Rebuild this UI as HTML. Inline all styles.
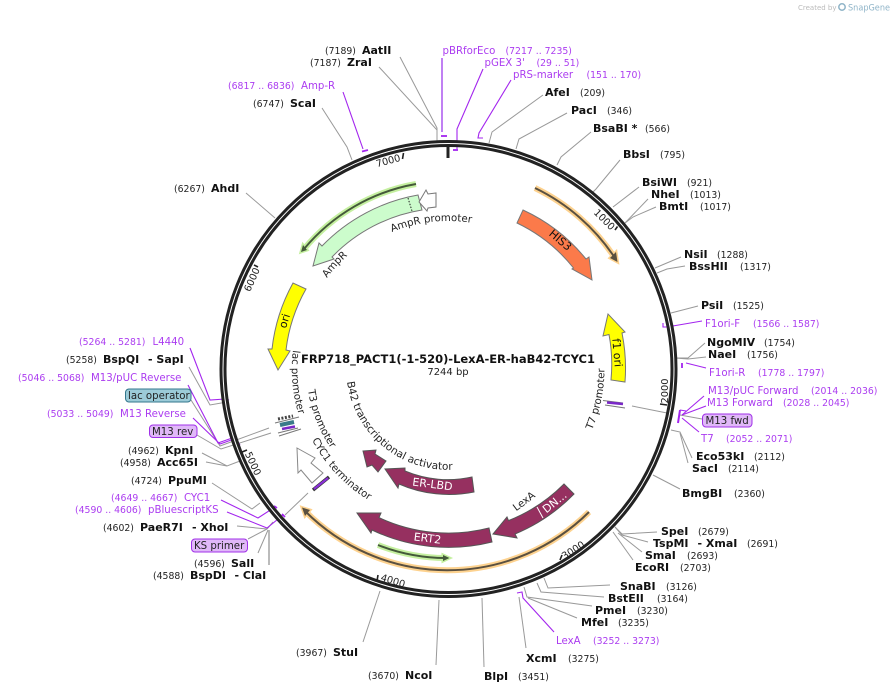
<!DOCTYPE html>
<html><head><meta charset="utf-8"><style>
html,body{margin:0;padding:0;background:#fff;width:896px;height:693px;overflow:hidden}
svg{display:block;font-family:"DejaVu Sans","Liberation Sans",sans-serif}
.b{font-size:11px;font-weight:bold;fill:#111}
.n{font-size:9.3px;fill:#222}
.p{font-size:10.2px;fill:#ab3cf0}
.q{font-size:9.3px;fill:#ab3cf0}
.t{font-size:10.2px;fill:#222}
.u{font-size:10.5px;fill:#222}
.w{font-size:11px;fill:#fff;text-anchor:middle}
.k{font-size:11px;fill:#111;text-anchor:middle}
.tk{font-size:9.8px;fill:#222;text-anchor:middle}
.l polyline,.l line{fill:none;stroke:#999;stroke-width:1}
.v polyline,.v line{fill:none;stroke:#a325ee;stroke-width:1.1}
</style></head><body>
<svg width="896" height="693" viewBox="0 0 896 693" xmlns="http://www.w3.org/2000/svg">
<defs>
<path id="a1" d="M327,278 A151,151 0 0 1 599,369"/>
<path id="a2" d="M392,232 A148,148 0 0 1 596,369"/>
<path id="a3" d="M592,430 A156,156 0 0 0 448,213"/>
<path id="a4" d="M293,350 A156,156 0 0 0 448,525"/>
<path id="a5" d="M308,390 A141,141 0 0 0 448,510"/>
<path id="a6" d="M312,440 A153,153 0 0 0 448,522"/>
<path id="a7" d="M347,382 A102,102 0 0 0 550,369"/>
</defs>

<text x="798" y="10" font-size="7" fill="#bbb">Created by</text>
<circle cx="842" cy="7" r="3.2" fill="none" stroke="#8fb4c8" stroke-width="1.5"/>
<text x="848" y="10.5" font-size="8.5" fill="#8fb4c8" textLength="42" lengthAdjust="spacingAndGlyphs">SnapGene</text>

<g class="l">
<polyline points="400,57 437,128 437,141"/>
<polyline points="379,67 437,130"/>
<polyline points="322,108 347,147 352,160"/>
<polyline points="246,193 275,218"/>
<polyline points="543,95 492,132 489,143"/>
<polyline points="567,113 519,139 516,149"/>
<polyline points="591,132 561,157 557,165"/>
<polyline points="620,160 596,189 592,193"/>
<polyline points="639,187 613,207"/>
<polyline points="648,199 625,223"/>
<polyline points="656,207 633,217 625,223"/>
<polyline points="681,257 655,268"/>
<polyline points="685,266 667,269 657,273"/>
<polyline points="698,306 671,313"/>
<polyline points="705,343 688,358 675,358"/>
<polyline points="706,357 688,359 675,358"/>
<polyline points="702,419 680,415"/>
<polyline points="692,458 680,432 671,430"/>
<polyline points="688,463 680,433"/>
<polyline points="653,475 680,489"/>
<polyline points="632,406 667,413"/>
<polyline points="657,532 622,534 615,527"/>
<polyline points="648,542 622,535 615,527"/>
<polyline points="642,552 618,533"/>
<polyline points="633,560 613,532"/>
<polyline points="610,585 548,588 544,578"/>
<polyline points="604,597 541,592 537,583"/>
<polyline points="592,606 527,597 524,587"/>
<polyline points="577,618 528,598"/>
<polyline points="526,648 519,597"/>
<polyline points="484,667 482,598"/>
<polyline points="436,665 439,600"/>
<polyline points="363,642 380,591"/>
<polyline points="189,367 210,405 227,402"/>
<polyline points="191,400 220,446 269,428"/>
<polyline points="197,435 221,449 271,433"/>
<polyline points="202,453 227,466 240,461"/>
<polyline points="206,462 227,466"/>
<polyline points="212,483 252,509 260,503"/>
<polyline points="237,526 267,529"/>
<polyline points="248,539 267,529"/>
<polyline points="258,553 268,530"/>
<polyline points="267,529 273,522"/>
<polyline points="285,515 308,493"/>
<line x1="269" y1="565" x2="269" y2="530" style="stroke:#aaa;stroke-width:1.6"/>
</g>

<g class="v">
<polyline points="343,92 363,149"/>
<line x1="362" y1="151.5" x2="368" y2="150" style="stroke-width:1.8"/>
<line x1="442" y1="58" x2="442" y2="132" style="stroke:#b060f0;stroke-width:1.6"/>
<line x1="441" y1="136" x2="447" y2="136" style="stroke-width:1.8"/>
<polyline points="483,69 457,129 457,149"/>
<line x1="453" y1="150" x2="458" y2="150" style="stroke-width:1.8"/>
<polyline points="511,80 479,133 478,138 483,138"/>
<polyline points="702,321 667,327 663,327 663,323"/>
<polyline points="706,368 686,363"/>
<line x1="682" y1="363" x2="682" y2="368" style="stroke-width:1.8"/>
<polyline points="704,396 682,415"/>
<polyline points="706,406 682,415"/>
<polyline points="699,432 682,418"/>
<polyline points="680,410 678,423" style="stroke-width:2"/>
<polyline points="680,410 686,411"/>
<polyline points="554,632 523,598 522,592 517,593"/>
<polyline points="190,348 210,400 225,399 229,400"/>
<polyline points="188,385 218,443 235,437 240,445"/>
<polyline points="193,418 220,444 237,438"/>
<polyline points="221,500 258,518 275,507"/>
<polyline points="227,512 267,528 283,515"/>
<line x1="274" y1="506" x2="277" y2="508" style="stroke-width:1.8"/>
<line x1="282" y1="514" x2="285" y2="517" style="stroke-width:1.8"/>
</g>

<circle cx="448.5" cy="369" r="225.5" fill="none" stroke="#222" stroke-width="7"/>
<circle cx="448.5" cy="369" r="225.5" fill="none" stroke="#fff" stroke-width="1"/>

<g stroke="#222" stroke-width="1.6">
<line x1="448" y1="146" x2="448" y2="158" stroke-width="3"/>
<line x1="403.5" y1="153" x2="402.5" y2="159"/>
<line x1="617.5" y1="226.5" x2="615" y2="230"/>
<line x1="667" y1="405" x2="660" y2="404"/>
<line x1="562" y1="555" x2="560" y2="560"/>
<line x1="378" y1="575" x2="377" y2="581"/>
<line x1="242" y1="452" x2="247" y2="450"/>
<line x1="258" y1="267" x2="254" y2="265"/>
</g>
<text class="tk" transform="translate(389,164) rotate(-15)">7000</text>
<text class="tk" transform="translate(602,222) rotate(45)">1000</text>
<text class="tk" transform="translate(668,391) rotate(-90)">2000</text>
<text class="tk" transform="translate(575,553) rotate(-33)">3000</text>
<text class="tk" transform="translate(392,584) rotate(17)">4000</text>
<text class="tk" transform="translate(250,465) rotate(65)">5000</text>
<text class="tk" transform="translate(255,281) rotate(-66)">6000</text>

<!-- direction arcs -->
<g fill="none">
<path d="M535,188 A200,200 0 0 1 615,258" stroke="#fdd28f" stroke-width="6"/>
<polygon points="617.5,262 610,258 616,252" fill="#fdd28f" stroke="#fdd28f" stroke-width="3"/>
<path d="M535,188 A200,200 0 0 1 615,258" stroke="#5a5040" stroke-width="2"/>
<polygon points="617.5,262 610,258 616,252" fill="#5a5040"/>

<path d="M589,512 A201,201 0 0 1 305,511" stroke="#fdd28f" stroke-width="6"/>
<polygon points="302,507.5 310,510 305,516" fill="#fdd28f" stroke="#fdd28f" stroke-width="3"/>
<path d="M589,512 A201,201 0 0 1 305,511" stroke="#5a5040" stroke-width="2"/>
<polygon points="302,507.5 310,510 305,516" fill="#5a5040"/>

<path d="M416,184 A188,188 0 0 0 304,249" stroke="#c5f0a0" stroke-width="6"/>
<polygon points="301,252 307,250 303,245" fill="#c5f0a0" stroke="#c5f0a0" stroke-width="3"/>
<path d="M416,184 A188,188 0 0 0 304,249" stroke="#44593a" stroke-width="2"/>
<polygon points="301,252 307,250 303,245" fill="#44593a"/>

<path d="M378,545 A189,189 0 0 0 446,558" stroke="#c5f0a0" stroke-width="6"/>
<polygon points="449.5,558 443,555 443,561" fill="#c5f0a0" stroke="#c5f0a0" stroke-width="3"/>
<path d="M378,545 A189,189 0 0 0 446,558" stroke="#44593a" stroke-width="2"/>
<polygon points="449.5,558 443,555 443,561" fill="#44593a"/>
</g>

<!-- features -->
<g stroke="#777" stroke-width="1">
<path d="M418,195 A176,176 0 0 0 322,246 L319,243 L313,266 L334,259 L332,257 A161,161 0 0 1 422,210 Z" fill="#ccfccc"/>
<line x1="408" y1="198" x2="412" y2="211" stroke="#222" stroke-dasharray="1.5 1.5"/>
<polygon points="419,202 426,190 428,194 436,193 436,207 428,208 427,211" fill="#fff"/>
<path d="M293,283 A177,177 0 0 0 272,349 L268,349 L278,370 L290,351 L286,350 A163,163 0 0 1 306,289 Z" fill="#ffff00"/>
<path d="M523,210 A176,176 0 0 1 586,259 L589,257 L592,280 L572,269 L573.5,268 A161,161 0 0 0 517,223 Z" fill="#fb7a4a"/>
<path d="M611,380 A163,163 0 0 0 609,334.5 L603,336 L608,314 L625,332 L622,333 A177,177 0 0 1 625,382 Z" fill="#ffff00"/>
<g fill="#963060" stroke="#555">
<path d="M472,477 A111,111 0 0 1 405,471 L405,468 L385,469 L398,488 L399,484 A125,125 0 0 0 474,492 Z"/>
<polygon points="363,451 376,450 375,454 386,461 378,472 372,465 367,467"/>
<path d="M489,528 A164,164 0 0 1 379,517.6 L381,513 L357,513 L371,533 L372,530 A178,178 0 0 0 492,542 Z"/>
<path d="M564,484 A163,163 0 0 1 508.5,520.6 L507,517 L493,534 L517,538 L515,534 A178,178 0 0 0 574,494 Z"/>
</g>
<line x1="537" y1="507" x2="543" y2="518" stroke="#fff"/>
<polygon points="297,448 315,458 311,463 323,473 312,483 301,470 298,473" fill="#fff" stroke="#888"/>
</g>

<!-- small features -->
<g fill="none">
<line x1="603" y1="400.5" x2="623" y2="403" stroke="#777"/>
<line x1="605" y1="405" x2="625" y2="408" stroke="#777"/>
<line x1="607" y1="402.5" x2="623" y2="404" stroke="#7a28c8" stroke-width="2.5"/>
<line x1="278" y1="419" x2="293" y2="416" stroke="#444" stroke-width="3" stroke-dasharray="2 1.5"/>
<line x1="280" y1="425" x2="294" y2="422" stroke="#3a7a8a" stroke-width="4"/>
<line x1="282" y1="429" x2="295" y2="426.5" stroke="#7a28c8" stroke-width="2.5"/>
<line x1="275" y1="423" x2="299" y2="417" stroke="#777"/>
<line x1="279" y1="436" x2="301" y2="429" stroke="#777"/>
<line x1="278" y1="433" x2="298" y2="428" stroke="#777"/>
<line x1="313" y1="490" x2="329" y2="477" stroke="#333" stroke-width="3.4"/>
<line x1="314" y1="489" x2="328" y2="478" stroke="#8a30d8" stroke-width="2.2"/>
</g>

<!-- feature text -->
<text class="k" transform="translate(558,243) rotate(40)">HIS3</text>
<text class="k" transform="translate(613.5,353) rotate(85)">f1 ori</text>
<text class="k" transform="translate(288,322) rotate(-73)">ori</text>
<text class="w" transform="translate(432,488) rotate(7)">ER-LBD</text>
<text class="w" transform="translate(427,542) rotate(7)">ERT2</text>
<text class="w" transform="translate(557,505) rotate(-39)">DN...</text>
<text class="t" text-anchor="middle" transform="translate(526,504) rotate(-37)">LexA</text>
<text class="t"><textPath href="#a1">AmpR</textPath></text>
<text class="t"><textPath href="#a2">AmpR promoter</textPath></text>
<text class="t"><textPath href="#a3">T7 promoter</textPath></text>
<text class="t"><textPath href="#a4">lac promoter</textPath></text>
<text class="t"><textPath href="#a5">T3 promoter</textPath></text>
<text class="t"><textPath href="#a6">CYC1 terminator</textPath></text>
<text class="u"><textPath href="#a7">B42 transcriptional activator</textPath></text>

<text x="301" y="363" font-size="11.5" font-weight="bold" fill="#111" textLength="294" lengthAdjust="spacing">FRP718_PACT1(-1-520)-LexA-ER-haB42-TCYC1</text>
<text x="448" y="375" font-size="10" fill="#222" text-anchor="middle">7244 bp</text>

<!-- boxes -->
<rect x="702.5" y="414" width="49.5" height="13" rx="3.5" fill="#e0b8f8" stroke="#a030e8"/>
<text x="705.5" y="424" class="t">M13 fwd</text>
<rect x="125.5" y="389" width="65.5" height="13" rx="3.5" fill="#9ccbd8" stroke="#33778c"/>
<text x="128" y="399" class="t">lac operator</text>
<rect x="149.5" y="425" width="47.5" height="12.5" rx="3.5" fill="#e0b8f8" stroke="#a030e8"/>
<text x="152" y="435" class="t">M13 rev</text>
<rect x="191.5" y="539" width="56" height="13" rx="3.5" fill="#e0b8f8" stroke="#a030e8"/>
<text x="194" y="549" class="t">KS primer</text>

<!-- labels -->
<text x="325" y="54" class="n">(7189)</text><text x="362" y="54" class="b">AatII</text>
<text x="310" y="66" class="n">(7187)</text><text x="347" y="66" class="b">ZraI</text>
<text x="228" y="89" class="q">(6817 .. 6836)</text><text x="301" y="89" class="p">Amp-R</text>
<text x="253" y="107" class="n">(6747)</text><text x="290" y="107" class="b">ScaI</text>
<text x="174" y="192" class="n">(6267)</text><text x="211" y="192" class="b">AhdI</text>
<text x="442.5" y="54" class="p">pBRforEco</text><text x="505.5" y="54" class="q">(7217 .. 7235)</text>
<text x="484.5" y="66" class="p">pGEX 3'</text><text x="536.5" y="66" class="q">(29 .. 51)</text>
<text x="513" y="78" class="p">pRS-marker</text><text x="586.5" y="78" class="q">(151 .. 170)</text>
<text x="545" y="96" class="b">AfeI</text><text x="580" y="96" class="n">(209)</text>
<text x="571" y="114" class="b">PacI</text><text x="607" y="114" class="n">(346)</text>
<text x="593" y="132" class="b">BsaBI *</text><text x="645" y="132" class="n">(566)</text>
<text x="623" y="158" class="b">BbsI</text><text x="660" y="158" class="n">(795)</text>
<text x="642" y="186" class="b">BsiWI</text><text x="687" y="186" class="n">(921)</text>
<text x="651" y="198" class="b">NheI</text><text x="690" y="198" class="n">(1013)</text>
<text x="659" y="210" class="b">BmtI</text><text x="700" y="210" class="n">(1017)</text>
<text x="684" y="258" class="b">NsiI</text><text x="717" y="258" class="n">(1288)</text>
<text x="689" y="270" class="b">BssHII</text><text x="740" y="270" class="n">(1317)</text>
<text x="701" y="309" class="b">PsiI</text><text x="733" y="309" class="n">(1525)</text>
<text x="705" y="327" class="p">F1ori-F</text><text x="753" y="327" class="q">(1566 .. 1587)</text>
<text x="707" y="346" class="b">NgoMIV</text><text x="764" y="346" class="n">(1754)</text>
<text x="708" y="358" class="b">NaeI</text><text x="747" y="358" class="n">(1756)</text>
<text x="709" y="376" class="p">F1ori-R</text><text x="758" y="376" class="q">(1778 .. 1797)</text>
<text x="708" y="394" class="p">M13/pUC Forward</text><text x="811" y="394" class="q">(2014 .. 2036)</text>
<text x="707" y="406" class="p">M13 Forward</text><text x="783" y="406" class="q">(2028 .. 2045)</text>
<text x="701" y="442" class="p">T7</text><text x="726" y="442" class="q">(2052 .. 2071)</text>
<text x="696" y="460" class="b">Eco53kI</text><text x="754" y="460" class="n">(2112)</text>
<text x="692" y="472" class="b">SacI</text><text x="728" y="472" class="n">(2114)</text>
<text x="682" y="497" class="b">BmgBI</text><text x="734" y="497" class="n">(2360)</text>
<text x="661" y="535" class="b">SpeI</text><text x="698" y="535" class="n">(2679)</text>
<text x="653" y="547" class="b">TspMI</text><text x="697.5" y="547" class="b">- XmaI</text><text x="747" y="547" class="n">(2691)</text>
<text x="645" y="559" class="b">SmaI</text><text x="687" y="559" class="n">(2693)</text>
<text x="635" y="571" class="b">EcoRI</text><text x="680" y="571" class="n">(2703)</text>
<text x="620" y="590" class="b">SnaBI</text><text x="666" y="590" class="n">(3126)</text>
<text x="608" y="602" class="b">BstEII</text><text x="657" y="602" class="n">(3164)</text>
<text x="595" y="614" class="b">PmeI</text><text x="637" y="614" class="n">(3230)</text>
<text x="581" y="626" class="b">MfeI</text><text x="618" y="626" class="n">(3235)</text>
<text x="556" y="644" class="p">LexA</text><text x="593" y="644" class="q">(3252 .. 3273)</text>
<text x="526" y="662" class="b">XcmI</text><text x="568" y="662" class="n">(3275)</text>
<text x="484" y="680" class="b">BlpI</text><text x="518" y="680" class="n">(3451)</text>
<text x="368" y="679" class="n">(3670)</text><text x="405" y="679" class="b">NcoI</text>
<text x="296" y="656" class="n">(3967)</text><text x="333" y="656" class="b">StuI</text>
<text x="79" y="345" class="q">(5264 .. 5281)</text><text x="152.5" y="345" class="p">L4440</text>
<text x="66" y="363" class="n">(5258)</text><text x="103" y="363" class="b">BspQI</text><text x="148" y="363" class="b">- SapI</text>
<text x="18" y="381" class="q">(5046 .. 5068)</text><text x="91" y="381" class="p">M13/pUC Reverse</text>
<text x="47" y="417" class="q">(5033 .. 5049)</text><text x="120" y="417" class="p">M13 Reverse</text>
<text x="128" y="454" class="n">(4962)</text><text x="165" y="454" class="b">KpnI</text>
<text x="120" y="466" class="n">(4958)</text><text x="157" y="466" class="b">Acc65I</text>
<text x="131" y="484" class="n">(4724)</text><text x="168" y="484" class="b">PpuMI</text>
<text x="111" y="501" class="q">(4649 .. 4667)</text><text x="184" y="501" class="p">CYC1</text>
<text x="75" y="513" class="q">(4590 .. 4606)</text><text x="148" y="513" class="p">pBluescriptKS</text>
<text x="103" y="531" class="n">(4602)</text><text x="140" y="531" class="b">PaeR7I</text><text x="192" y="531" class="b">- XhoI</text>
<text x="194" y="567" class="n">(4596)</text><text x="231" y="567" class="b">SalI</text>
<text x="153" y="579" class="n">(4588)</text><text x="190" y="579" class="b">BspDI</text><text x="234.5" y="579" class="b">- ClaI</text>
</svg>
</body></html>
